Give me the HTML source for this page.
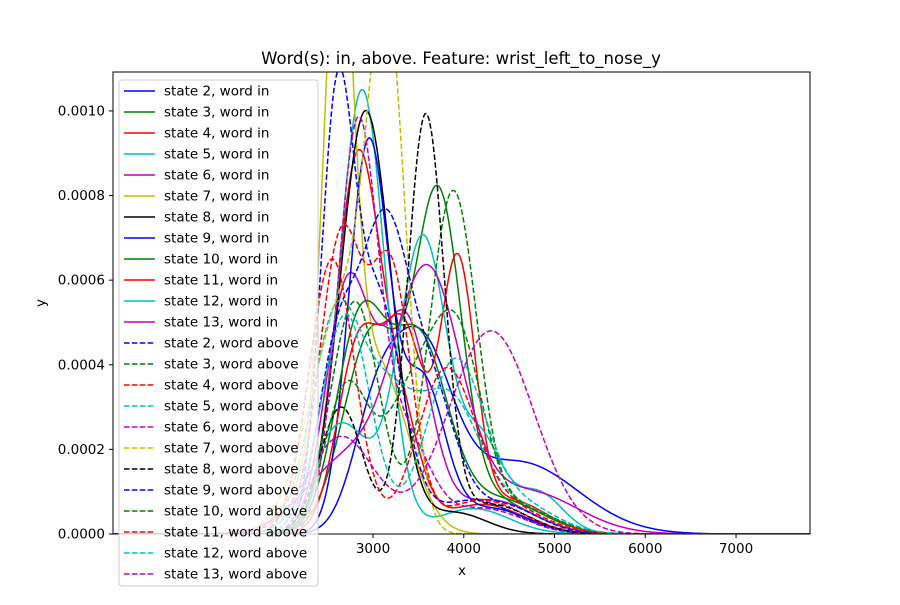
<!DOCTYPE html>
<html><head><meta charset="utf-8"><style>
body{margin:0;background:#fff}
svg text{font-family:"DejaVu Sans","Liberation Sans",sans-serif}
</style></head><body>
<svg id="chart" width="900" height="600" xmlns="http://www.w3.org/2000/svg">
<defs><clipPath id="clip"><rect x="113" y="72" width="697" height="462"/></clipPath></defs>
<rect x="0" y="0" width="900" height="600" fill="#fff"/>
<text x="461" y="64" font-size="16.5" text-anchor="middle">Word(s): in, above. Feature: wrist_left_to_nose_y</text>
<g id="curves" clip-path="url(#clip)"></g>
<rect x="113" y="72" width="697" height="462" fill="none" stroke="#000" stroke-width="1"/>
<g id="axes"></g>
<text x="462" y="575" font-size="13.5" text-anchor="middle">x</text>
<text x="45" y="303" font-size="13.5" text-anchor="middle" transform="rotate(-90 45 303)">y</text>
<g id="legend"></g>
</svg>
<script>
const states=[2,3,4,5,6,7,8,9,10,11,12,13];
const words=["in","above"];
const colors=["#0000ff","#008000","#ff0000","#00bfbf","#bf00bf","#bfbf00","#000000","#0000ff","#008000","#ff0000","#00bfbf","#bf00bf"];
const xTicks=[3000,4000,5000,6000,7000];
const yTicks=[0,0.0002,0.0004,0.0006,0.0008,0.0010];
// mixture components per series: [mean, sd, peak]
const compsIn=[
 [[3500,350,0.00042],[3000,250,0.0002],[4600,650,0.00017]],
 [[3720,250,0.00075],[3000,320,0.00048],[4300,450,0.00008]],
 [[2830,240,0.00088],[3300,220,0.00025],[4200,450,0.00007]],
 [[2880,250,0.00105],[4100,400,0.00006]],
 [[2720,240,0.00058],[3350,270,0.0005],[4300,450,0.00008]],
 [[2620,160,0.0013],[3050,330,0.0004],[2250,250,0.0001]],
 [[2920,280,0.001],[3900,350,0.00005]],
 [[2950,220,0.00092],[3550,240,0.00035],[4300,400,0.00006]],
 [[2850,270,0.00048],[3500,320,0.00045],[4400,450,0.00008]],
 [[3930,190,0.00062],[3350,220,0.00045],[2850,240,0.00045],[4500,400,0.00008]],
 [[3550,270,0.0007],[2650,320,0.00026],[4800,280,0.0001],[4200,220,0.0002]],
 [[3600,370,0.0006],[2700,450,0.00017],[4700,550,0.0001]]
];
const compsAbove=[
 [[2600,180,0.00095],[3050,270,0.00055],[4100,450,0.00008]],
 [[3880,260,0.0008],[2800,270,0.00055],[4600,400,0.00006]],
 [[2650,240,0.0007],[3200,220,0.0006],[4200,450,0.00008]],
 [[2580,270,0.00048],[3150,320,0.0003],[3850,330,0.0003],[4600,400,0.00006]],
 [[2830,220,0.00095],[3350,270,0.00022],[4200,450,0.00006]],
 [[3150,210,0.0012],[2650,270,0.0005],[2200,250,0.0001]],
 [[3580,200,0.00098],[2650,240,0.0003],[4300,400,0.00007]],
 [[3120,270,0.0007],[3650,270,0.0003],[2600,220,0.0004],[4400,400,0.00007]],
 [[2700,240,0.00033],[3450,340,0.00033],[3950,270,0.00038],[4600,400,0.00006]],
 [[2550,250,0.00065],[3800,320,0.00038],[4500,400,0.00006]],
 [[2700,270,0.00052],[3900,320,0.0004],[4600,400,0.00007]],
 [[2650,370,0.00023],[4300,470,0.00048]]
];
const X0=135,X1=7815,Y0=0,Y1=0.001092;
const px=x=>113+(x-X0)/(X1-X0)*697;
const py=y=>534-(y-Y0)/(Y1-Y0)*462;
const NS="http://www.w3.org/2000/svg";
const g=document.getElementById('curves');
function dens(c,x){let s=0;for(const [m,sd,h] of c)s+=h*Math.exp(-0.5*((x-m)/sd)**2);return s;}
function draw(c,col,dash,name){
 let d="";for(let x=X0;x<=X1;x+=10){d+=(x===X0?"M":"L")+px(x).toFixed(1)+","+py(dens(c,x)).toFixed(1);}
 const p=document.createElementNS(NS,'path');
 p.setAttribute('d',d);p.setAttribute('fill','none');p.setAttribute('stroke',col);p.setAttribute('stroke-width','1.5');
 if(dash)p.setAttribute('stroke-dasharray','5.5,2.4');
 
 
 g.appendChild(p);
}
compsIn.forEach((c,i)=>draw(c,colors[i],false,'curve-state-'+states[i]+'-in'));
compsAbove.forEach((c,i)=>draw(c,colors[i],true,'curve-state-'+states[i]+'-above'));
const ax=document.getElementById('axes');
xTicks.forEach(v=>{
 const l=document.createElementNS(NS,'line');l.setAttribute('x1',px(v));l.setAttribute('x2',px(v));l.setAttribute('y1',534);l.setAttribute('y2',538);l.setAttribute('stroke','#000');
 
 
 ax.appendChild(l);
 const t=document.createElementNS(NS,'text');t.setAttribute('x',px(v));t.setAttribute('y',553);t.setAttribute('font-size','13.5');t.setAttribute('text-anchor','middle');t.textContent=v;
 
 
 ax.appendChild(t);
});
yTicks.forEach(v=>{
 const l=document.createElementNS(NS,'line');l.setAttribute('x1',109);l.setAttribute('x2',113);l.setAttribute('y1',py(v));l.setAttribute('y2',py(v));l.setAttribute('stroke','#000');
 
 
 ax.appendChild(l);
 const t=document.createElementNS(NS,'text');t.setAttribute('x',105);t.setAttribute('y',py(v)+4.5);t.setAttribute('font-size','13.5');t.setAttribute('text-anchor','end');t.textContent=v.toFixed(4);
 
 
 ax.appendChild(t);
});
const lg=document.getElementById('legend');
const box=document.createElementNS(NS,'rect');
box.setAttribute('x',119);box.setAttribute('y',80);box.setAttribute('width',199);box.setAttribute('height',506);box.setAttribute('rx',3);
box.setAttribute('fill','rgba(255,255,255,0.8)');box.setAttribute('stroke','#ccc');


lg.appendChild(box);
let k=0;
words.forEach((w,wi)=>states.forEach((s,i)=>{
 const y=91+k*21;k++;
 const l=document.createElementNS(NS,'line');l.setAttribute('x1',124);l.setAttribute('x2',155);l.setAttribute('y1',y);l.setAttribute('y2',y);
 l.setAttribute('stroke',colors[i]);l.setAttribute('stroke-width','1.5');if(wi)l.setAttribute('stroke-dasharray','5.5,2.4');
 
 
 lg.appendChild(l);
 const t=document.createElementNS(NS,'text');t.setAttribute('x',164);t.setAttribute('y',y+4.5);t.setAttribute('font-size','13.5');t.textContent='state '+s+', word '+w;
 
 
 lg.appendChild(t);
}));
</script>
</body></html>
